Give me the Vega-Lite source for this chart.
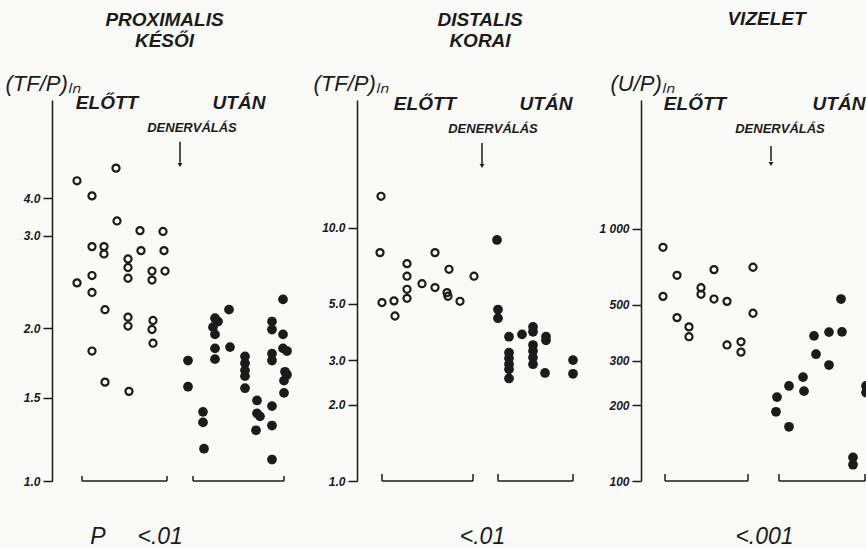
{
  "$schema": "https://vega.github.io/schema/vega-lite/v6.json",
  "background": "#fafaf8",
  "padding": {"left": 5, "top": 10, "right": 0, "bottom": 0},
  "bounds": "flush",
  "spacing": 40,
  "config": {
    "view": {"stroke": null},
    "font": "Liberation Sans",
    "axis": {"domainColor": "#1b1b1b", "tickColor": "#1b1b1b", "labelColor": "#1b1b1b", "titleColor": "#1b1b1b", "domainWidth": 1.5, "tickWidth": 1.5, "grid": false},
    "title": {"color": "#1b1b1b"},
    "text": {"color": "#1b1b1b"}
  },
  "datasets": {
    "p1": [
      {"pos": 25, "value": 4.30, "phase": "ELŐTT"}, {"pos": 25, "value": 2.44, "phase": "ELŐTT"},
      {"pos": 40, "value": 4.04, "phase": "ELŐTT"}, {"pos": 40, "value": 2.86, "phase": "ELŐTT"}, {"pos": 40, "value": 2.52, "phase": "ELŐTT"}, {"pos": 40, "value": 2.34, "phase": "ELŐTT"}, {"pos": 40, "value": 1.82, "phase": "ELŐTT"},
      {"pos": 52, "value": 2.86, "phase": "ELŐTT"}, {"pos": 52, "value": 2.77, "phase": "ELŐTT"}, {"pos": 53, "value": 2.17, "phase": "ELŐTT"}, {"pos": 53, "value": 1.60, "phase": "ELŐTT"},
      {"pos": 64, "value": 4.53, "phase": "ELŐTT"}, {"pos": 65, "value": 3.36, "phase": "ELŐTT"},
      {"pos": 76, "value": 2.71, "phase": "ELŐTT"}, {"pos": 76, "value": 2.61, "phase": "ELŐTT"}, {"pos": 76, "value": 2.49, "phase": "ELŐTT"}, {"pos": 76, "value": 2.10, "phase": "ELŐTT"}, {"pos": 76, "value": 2.02, "phase": "ELŐTT"}, {"pos": 77, "value": 1.54, "phase": "ELŐTT"},
      {"pos": 88, "value": 3.12, "phase": "ELŐTT"}, {"pos": 89, "value": 2.81, "phase": "ELŐTT"},
      {"pos": 100, "value": 2.57, "phase": "ELŐTT"}, {"pos": 100, "value": 2.47, "phase": "ELŐTT"}, {"pos": 101, "value": 2.07, "phase": "ELŐTT"}, {"pos": 100, "value": 1.99, "phase": "ELŐTT"}, {"pos": 101, "value": 1.88, "phase": "ELŐTT"},
      {"pos": 111, "value": 3.10, "phase": "ELŐTT"}, {"pos": 112, "value": 2.81, "phase": "ELŐTT"}, {"pos": 113, "value": 2.57, "phase": "ELŐTT"},
      {"pos": 136, "value": 1.75, "phase": "UTÁN"}, {"pos": 136, "value": 1.57, "phase": "UTÁN"},
      {"pos": 151, "value": 1.40, "phase": "UTÁN"}, {"pos": 151, "value": 1.33, "phase": "UTÁN"}, {"pos": 152, "value": 1.17, "phase": "UTÁN"},
      {"pos": 163, "value": 2.09, "phase": "UTÁN"}, {"pos": 166, "value": 2.06, "phase": "UTÁN"}, {"pos": 161, "value": 2.01, "phase": "UTÁN"}, {"pos": 163, "value": 1.95, "phase": "UTÁN"}, {"pos": 163, "value": 1.84, "phase": "UTÁN"}, {"pos": 163, "value": 1.76, "phase": "UTÁN"},
      {"pos": 177, "value": 2.17, "phase": "UTÁN"}, {"pos": 178, "value": 1.85, "phase": "UTÁN"},
      {"pos": 193, "value": 1.78, "phase": "UTÁN"}, {"pos": 193, "value": 1.73, "phase": "UTÁN"}, {"pos": 193, "value": 1.68, "phase": "UTÁN"}, {"pos": 193, "value": 1.64, "phase": "UTÁN"}, {"pos": 193, "value": 1.56, "phase": "UTÁN"},
      {"pos": 205, "value": 1.48, "phase": "UTÁN"}, {"pos": 205, "value": 1.39, "phase": "UTÁN"}, {"pos": 208, "value": 1.37, "phase": "UTÁN"}, {"pos": 204, "value": 1.28, "phase": "UTÁN"},
      {"pos": 220, "value": 2.06, "phase": "UTÁN"}, {"pos": 220, "value": 1.99, "phase": "UTÁN"}, {"pos": 220, "value": 1.80, "phase": "UTÁN"}, {"pos": 220, "value": 1.75, "phase": "UTÁN"}, {"pos": 220, "value": 1.44, "phase": "UTÁN"}, {"pos": 220, "value": 1.31, "phase": "UTÁN"}, {"pos": 220, "value": 1.11, "phase": "UTÁN"},
      {"pos": 231, "value": 2.27, "phase": "UTÁN"}, {"pos": 231, "value": 1.95, "phase": "UTÁN"}, {"pos": 231, "value": 1.84, "phase": "UTÁN"}, {"pos": 235, "value": 1.82, "phase": "UTÁN"}, {"pos": 233, "value": 1.67, "phase": "UTÁN"}, {"pos": 235, "value": 1.65, "phase": "UTÁN"}, {"pos": 232, "value": 1.61, "phase": "UTÁN"}, {"pos": 232, "value": 1.53, "phase": "UTÁN"}
    ],
    "p2": [
      {"pos": 24, "value": 13.3, "phase": "ELŐTT"}, {"pos": 23, "value": 7.97, "phase": "ELŐTT"}, {"pos": 25, "value": 5.06, "phase": "ELŐTT"},
      {"pos": 37, "value": 5.14, "phase": "ELŐTT"}, {"pos": 38, "value": 4.48, "phase": "ELŐTT"},
      {"pos": 50, "value": 7.21, "phase": "ELŐTT"}, {"pos": 50, "value": 6.43, "phase": "ELŐTT"}, {"pos": 50, "value": 5.71, "phase": "ELŐTT"}, {"pos": 50, "value": 5.26, "phase": "ELŐTT"},
      {"pos": 65, "value": 6.01, "phase": "ELŐTT"},
      {"pos": 78, "value": 7.97, "phase": "ELŐTT"}, {"pos": 78, "value": 5.80, "phase": "ELŐTT"},
      {"pos": 92, "value": 6.85, "phase": "ELŐTT"}, {"pos": 90, "value": 5.54, "phase": "ELŐTT"}, {"pos": 91, "value": 5.36, "phase": "ELŐTT"},
      {"pos": 103, "value": 5.12, "phase": "ELŐTT"},
      {"pos": 117, "value": 6.43, "phase": "ELŐTT"},
      {"pos": 140, "value": 8.94, "phase": "UTÁN"}, {"pos": 141, "value": 4.75, "phase": "UTÁN"}, {"pos": 141, "value": 4.39, "phase": "UTÁN"},
      {"pos": 152, "value": 3.71, "phase": "UTÁN"}, {"pos": 152, "value": 3.21, "phase": "UTÁN"}, {"pos": 152, "value": 3.05, "phase": "UTÁN"}, {"pos": 152, "value": 2.89, "phase": "UTÁN"}, {"pos": 152, "value": 2.76, "phase": "UTÁN"}, {"pos": 152, "value": 2.54, "phase": "UTÁN"},
      {"pos": 165, "value": 3.79, "phase": "UTÁN"},
      {"pos": 176, "value": 4.06, "phase": "UTÁN"}, {"pos": 176, "value": 3.88, "phase": "UTÁN"}, {"pos": 176, "value": 3.44, "phase": "UTÁN"}, {"pos": 176, "value": 3.26, "phase": "UTÁN"}, {"pos": 176, "value": 3.07, "phase": "UTÁN"}, {"pos": 176, "value": 2.89, "phase": "UTÁN"},
      {"pos": 189, "value": 3.71, "phase": "UTÁN"}, {"pos": 189, "value": 3.59, "phase": "UTÁN"}, {"pos": 188, "value": 2.67, "phase": "UTÁN"},
      {"pos": 216, "value": 3.00, "phase": "UTÁN"}, {"pos": 216, "value": 2.65, "phase": "UTÁN"}
    ],
    "p3": [
      {"pos": 22, "value": 843, "phase": "ELŐTT"}, {"pos": 22, "value": 539, "phase": "ELŐTT"},
      {"pos": 36, "value": 653, "phase": "ELŐTT"}, {"pos": 36, "value": 444, "phase": "ELŐTT"},
      {"pos": 48, "value": 408, "phase": "ELŐTT"}, {"pos": 48, "value": 373, "phase": "ELŐTT"},
      {"pos": 60, "value": 583, "phase": "ELŐTT"}, {"pos": 60, "value": 549, "phase": "ELŐTT"},
      {"pos": 73, "value": 688, "phase": "ELŐTT"}, {"pos": 73, "value": 526, "phase": "ELŐTT"},
      {"pos": 86, "value": 515, "phase": "ELŐTT"}, {"pos": 86, "value": 346, "phase": "ELŐTT"},
      {"pos": 100, "value": 356, "phase": "ELŐTT"}, {"pos": 100, "value": 324, "phase": "ELŐTT"},
      {"pos": 112, "value": 703, "phase": "ELŐTT"}, {"pos": 112, "value": 462, "phase": "ELŐTT"},
      {"pos": 136, "value": 215, "phase": "UTÁN"}, {"pos": 135, "value": 188, "phase": "UTÁN"},
      {"pos": 148, "value": 238, "phase": "UTÁN"}, {"pos": 148, "value": 164, "phase": "UTÁN"},
      {"pos": 162, "value": 258, "phase": "UTÁN"}, {"pos": 163, "value": 227, "phase": "UTÁN"},
      {"pos": 173, "value": 376, "phase": "UTÁN"}, {"pos": 175, "value": 318, "phase": "UTÁN"},
      {"pos": 188, "value": 389, "phase": "UTÁN"}, {"pos": 188, "value": 288, "phase": "UTÁN"},
      {"pos": 200, "value": 526, "phase": "UTÁN"}, {"pos": 201, "value": 390, "phase": "UTÁN"},
      {"pos": 212, "value": 124, "phase": "UTÁN"}, {"pos": 212, "value": 116, "phase": "UTÁN"},
      {"pos": 225, "value": 238, "phase": "UTÁN"}, {"pos": 225, "value": 224, "phase": "UTÁN"}
    ],
    "b1": [{"from": 30, "to": 115, "base": 1, "tip": 1.025}, {"from": 141, "to": 232, "base": 1, "tip": 1.025}],
    "b2": [{"from": 25, "to": 116, "base": 1, "tip": 1.065}, {"from": 141, "to": 216, "base": 1, "tip": 1.065}],
    "b3": [{"from": 24, "to": 107, "base": 100, "tip": 106.5}, {"from": 138, "to": 224, "base": 100, "tip": 106.5}],
    "h1": [{"pos": 55, "value": 5.93, "text": "ELŐTT"}, {"pos": 187, "value": 5.93, "text": "UTÁN"}],
    "h2": [{"pos": 68, "value": 30.8, "text": "ELŐTT"}, {"pos": 189, "value": 30.8, "text": "UTÁN"}],
    "h3": [{"pos": 54, "value": 3119, "text": "ELŐTT"}, {"pos": 198, "value": 3119, "text": "UTÁN"}],
    "d1": [{"pos": 140, "value": 5.34, "text": "DENERVÁLÁS", "arrowFrom": 5.05, "arrowTo": 4.63, "arrowPos": 128, "head": 4.59}],
    "d2": [{"pos": 136, "value": 24.5, "text": "DENERVÁLÁS", "arrowFrom": 21.6, "arrowTo": 17.85, "arrowPos": 125, "head": 17.5}],
    "d3": [{"pos": 139, "value": 2483, "text": "DENERVÁLÁS", "arrowFrom": 2126, "arrowTo": 1853, "arrowPos": 130, "head": 1804}]
  },
  "hconcat": [
    {
      "width": 265, "height": 381,
      "title": {"text": ["PROXIMALIS", "KÉSŐI"], "frame": "group", "anchor": "middle", "dx": -20, "offset": 21, "fontSize": 19, "lineHeight": 21, "fontStyle": "italic", "fontWeight": "bold"},
      "encoding": {
        "x": {"field": "pos", "type": "quantitative", "scale": {"domain": [0, 265], "nice": false},
          "axis": {"title": "P\u00a0\u00a0\u00a0\u00a0\u00a0<.01", "domain": false, "ticks": false, "labels": false, "titleX": 84, "titleAlign": "center", "titlePadding": 44, "titleFontSize": 23, "titleFontStyle": "italic", "titleFontWeight": "normal"}},
        "y": {"field": "value", "type": "quantitative", "scale": {"type": "log", "domain": [1, 1.5, 2, 3, 4, 6], "range": [381, 297.7, 228.3, 135.7, 98.3, 0], "nice": false},
          "axis": {"values": [1, 1.5, 2, 3, 4], "format": ".1f", "title": "(TF/P)ₗₙ", "titleAngle": 0, "titleX": -47, "titleY": -17, "titleAlign": "left", "titleBaseline": "middle", "titleFontSize": 22, "titleFontStyle": "italic", "titleFontWeight": "normal", "tickSize": 9, "labelPadding": 3, "labelFontSize": 12, "labelFontStyle": "italic", "labelFontWeight": "bold"}}
      },
      "layer": [
        {"data": {"name": "p1"}, "transform": [{"filter": "datum.phase === 'ELŐTT'"}], "mark": {"type": "point", "shape": "circle", "filled": false, "size": 50, "strokeWidth": 2.2, "color": "#1b1b1b", "opacity": 1}},
        {"data": {"name": "p1"}, "transform": [{"filter": "datum.phase === 'UTÁN'"}], "mark": {"type": "point", "shape": "circle", "filled": true, "size": 95, "color": "#1b1b1b", "opacity": 1}},
        {"data": {"name": "b1"}, "mark": {"type": "rule", "strokeWidth": 1.5, "color": "#1b1b1b"}, "encoding": {"x": {"field": "from", "type": "quantitative"}, "x2": {"field": "to"}, "y": {"field": "base", "type": "quantitative"}}},
        {"data": {"name": "b1"}, "transform": [{"fold": ["from", "to"], "as": ["end", "edge"]}], "mark": {"type": "rule", "strokeWidth": 1.5, "color": "#1b1b1b"}, "encoding": {"x": {"field": "edge", "type": "quantitative"}, "y": {"field": "base", "type": "quantitative"}, "y2": {"field": "tip"}}},
        {"data": {"name": "h1"}, "mark": {"type": "text", "fontSize": 19, "fontStyle": "italic", "fontWeight": "bold", "align": "center", "baseline": "middle"}, "encoding": {"text": {"field": "text"}}},
        {"data": {"name": "d1"}, "mark": {"type": "text", "fontSize": 13, "fontStyle": "italic", "fontWeight": "bold", "align": "center", "baseline": "middle"}, "encoding": {"text": {"field": "text"}}},
        {"data": {"name": "d1"}, "mark": {"type": "rule", "strokeWidth": 1.5, "color": "#1b1b1b"}, "encoding": {"x": {"field": "arrowPos", "type": "quantitative"}, "y": {"field": "arrowFrom", "type": "quantitative"}, "y2": {"field": "arrowTo"}}},
        {"data": {"name": "d1"}, "mark": {"type": "point", "shape": "triangle-down", "filled": true, "size": 22, "color": "#1b1b1b", "opacity": 1}, "encoding": {"x": {"field": "arrowPos", "type": "quantitative"}, "y": {"field": "head", "type": "quantitative"}}}
      ]
    },
    {
      "width": 244, "height": 381,
      "title": {"text": ["DISTALIS", "KORAI"], "frame": "group", "anchor": "middle", "dx": 1, "offset": 21, "fontSize": 19, "lineHeight": 21, "fontStyle": "italic", "fontWeight": "bold"},
      "encoding": {
        "x": {"field": "pos", "type": "quantitative", "scale": {"domain": [0, 244], "nice": false},
          "axis": {"title": "<.01", "domain": false, "ticks": false, "labels": false, "titleX": 125, "titleAlign": "center", "titlePadding": 44, "titleFontSize": 23, "titleFontStyle": "italic", "titleFontWeight": "normal"}},
        "y": {"field": "value", "type": "quantitative", "scale": {"type": "log", "domain": [1, 31.9], "nice": false},
          "axis": {"values": [1, 2, 3, 5, 10], "format": ".1f", "title": "(TF/P)ₗₙ", "titleAngle": 0, "titleX": -44, "titleY": -17, "titleAlign": "left", "titleBaseline": "middle", "titleFontSize": 22, "titleFontStyle": "italic", "titleFontWeight": "normal", "tickSize": 9, "labelPadding": 3, "labelFontSize": 12, "labelFontStyle": "italic", "labelFontWeight": "bold"}}
      },
      "layer": [
        {"data": {"name": "p2"}, "transform": [{"filter": "datum.phase === 'ELŐTT'"}], "mark": {"type": "point", "shape": "circle", "filled": false, "size": 50, "strokeWidth": 2.2, "color": "#1b1b1b", "opacity": 1}},
        {"data": {"name": "p2"}, "transform": [{"filter": "datum.phase === 'UTÁN'"}], "mark": {"type": "point", "shape": "circle", "filled": true, "size": 95, "color": "#1b1b1b", "opacity": 1}},
        {"data": {"name": "b2"}, "mark": {"type": "rule", "strokeWidth": 1.5, "color": "#1b1b1b"}, "encoding": {"x": {"field": "from", "type": "quantitative"}, "x2": {"field": "to"}, "y": {"field": "base", "type": "quantitative"}}},
        {"data": {"name": "b2"}, "transform": [{"fold": ["from", "to"], "as": ["end", "edge"]}], "mark": {"type": "rule", "strokeWidth": 1.5, "color": "#1b1b1b"}, "encoding": {"x": {"field": "edge", "type": "quantitative"}, "y": {"field": "base", "type": "quantitative"}, "y2": {"field": "tip"}}},
        {"data": {"name": "h2"}, "mark": {"type": "text", "fontSize": 19, "fontStyle": "italic", "fontWeight": "bold", "align": "center", "baseline": "middle"}, "encoding": {"text": {"field": "text"}}},
        {"data": {"name": "d2"}, "mark": {"type": "text", "fontSize": 13, "fontStyle": "italic", "fontWeight": "bold", "align": "center", "baseline": "middle"}, "encoding": {"text": {"field": "text"}}},
        {"data": {"name": "d2"}, "mark": {"type": "rule", "strokeWidth": 1.5, "color": "#1b1b1b"}, "encoding": {"x": {"field": "arrowPos", "type": "quantitative"}, "y": {"field": "arrowFrom", "type": "quantitative"}, "y2": {"field": "arrowTo"}}},
        {"data": {"name": "d2"}, "mark": {"type": "point", "shape": "triangle-down", "filled": true, "size": 22, "color": "#1b1b1b", "opacity": 1}, "encoding": {"x": {"field": "arrowPos", "type": "quantitative"}, "y": {"field": "head", "type": "quantitative"}}}
      ]
    },
    {
      "width": 225, "height": 381,
      "title": {"text": "VIZELET", "frame": "group", "anchor": "middle", "dx": 13, "offset": 43, "fontSize": 19, "fontStyle": "italic", "fontWeight": "bold"},
      "encoding": {
        "x": {"field": "pos", "type": "quantitative", "scale": {"domain": [0, 225], "nice": false},
          "axis": {"title": "<.001", "domain": false, "ticks": false, "labels": false, "titleX": 123, "titleAlign": "center", "titlePadding": 44, "titleFontSize": 23, "titleFontStyle": "italic", "titleFontWeight": "normal"}},
        "y": {"field": "value", "type": "quantitative", "scale": {"type": "log", "domain": [100, 3233], "nice": false},
          "axis": {"values": [100, 200, 300, 500, 1000], "labelExpr": "datum.value == 1000 ? '1 000' : datum.label", "title": "(U/P)ₗₙ", "titleAngle": 0, "titleX": -31, "titleY": -17, "titleAlign": "left", "titleBaseline": "middle", "titleFontSize": 22, "titleFontStyle": "italic", "titleFontWeight": "normal", "tickSize": 9, "labelPadding": 3, "labelFontSize": 12, "labelFontStyle": "italic", "labelFontWeight": "bold"}}
      },
      "layer": [
        {"data": {"name": "p3"}, "transform": [{"filter": "datum.phase === 'ELŐTT'"}], "mark": {"type": "point", "shape": "circle", "filled": false, "size": 50, "strokeWidth": 2.2, "color": "#1b1b1b", "opacity": 1, "clip": true}},
        {"data": {"name": "p3"}, "transform": [{"filter": "datum.phase === 'UTÁN'"}], "mark": {"type": "point", "shape": "circle", "filled": true, "size": 95, "color": "#1b1b1b", "opacity": 1, "clip": true}},
        {"data": {"name": "b3"}, "mark": {"type": "rule", "strokeWidth": 1.5, "color": "#1b1b1b"}, "encoding": {"x": {"field": "from", "type": "quantitative"}, "x2": {"field": "to"}, "y": {"field": "base", "type": "quantitative"}}},
        {"data": {"name": "b3"}, "transform": [{"fold": ["from", "to"], "as": ["end", "edge"]}], "mark": {"type": "rule", "strokeWidth": 1.5, "color": "#1b1b1b"}, "encoding": {"x": {"field": "edge", "type": "quantitative"}, "y": {"field": "base", "type": "quantitative"}, "y2": {"field": "tip"}}},
        {"data": {"name": "h3"}, "mark": {"type": "text", "fontSize": 19, "fontStyle": "italic", "fontWeight": "bold", "align": "center", "baseline": "middle"}, "encoding": {"text": {"field": "text"}}},
        {"data": {"name": "d3"}, "mark": {"type": "text", "fontSize": 13, "fontStyle": "italic", "fontWeight": "bold", "align": "center", "baseline": "middle"}, "encoding": {"text": {"field": "text"}}},
        {"data": {"name": "d3"}, "mark": {"type": "rule", "strokeWidth": 1.5, "color": "#1b1b1b"}, "encoding": {"x": {"field": "arrowPos", "type": "quantitative"}, "y": {"field": "arrowFrom", "type": "quantitative"}, "y2": {"field": "arrowTo"}}},
        {"data": {"name": "d3"}, "mark": {"type": "point", "shape": "triangle-down", "filled": true, "size": 22, "color": "#1b1b1b", "opacity": 1}, "encoding": {"x": {"field": "arrowPos", "type": "quantitative"}, "y": {"field": "head", "type": "quantitative"}}}
      ]
    }
  ]
}
